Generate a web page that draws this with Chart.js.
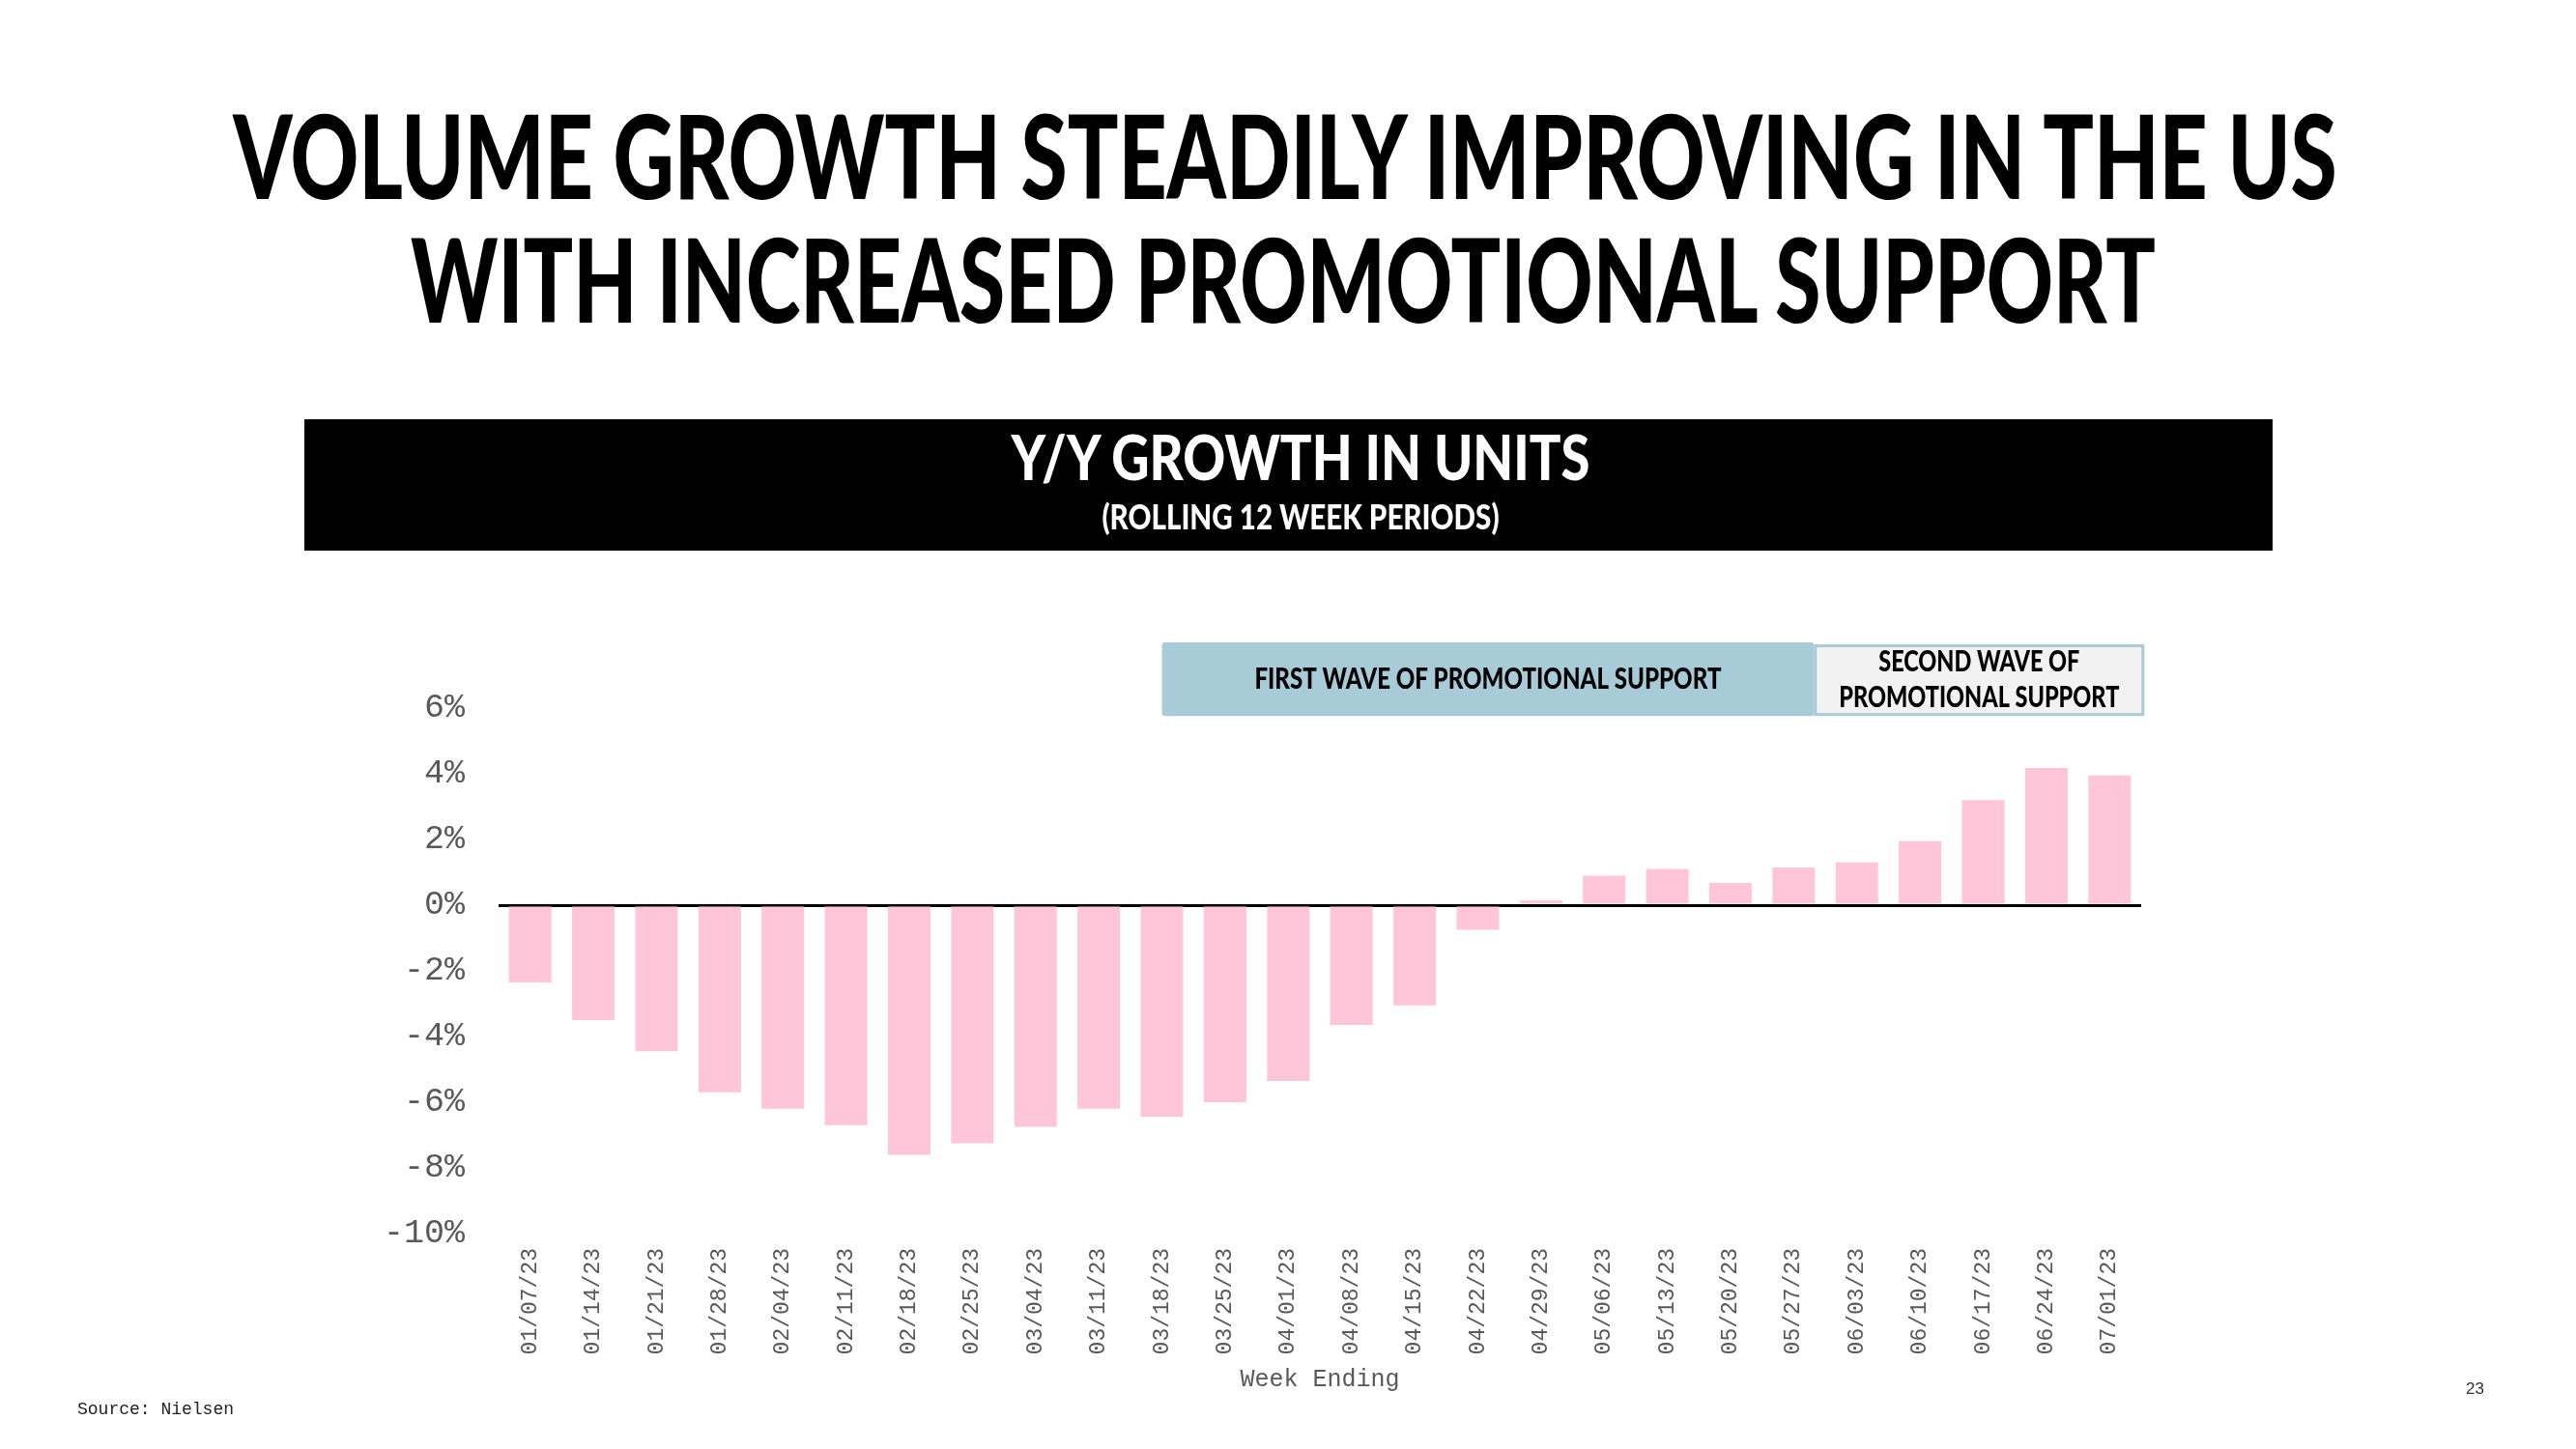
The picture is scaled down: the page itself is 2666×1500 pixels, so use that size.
<!DOCTYPE html>
<html>
<head>
<meta charset="utf-8">
<script src="https://cdn.jsdelivr.net/npm/chart.js@4.4.1/dist/chart.umd.min.js"></script>
<style>
    html, body { margin: 0; padding: 0; background: #fff; }
    body { width: 2666px; height: 1500px; position: relative; overflow: hidden; }
    #chart { position: absolute; left: 0; top: 0; }
    .fit {
        position: absolute;
        white-space: nowrap;
        line-height: 1;
        transform-origin: center top;
        font-family: Lato, "DejaVu Sans", sans-serif;
        font-weight: 900;
    }
    #header { position: absolute; left: 315px; top: 434px; width: 2037px; height: 136px; background: #000; }
    #source { position: absolute; left: 80px; top: 1449px; font: 18px "Liberation Mono", monospace; color: #222; }
    #page { position: absolute; left: 2552px; top: 1428px; font: 17px "Liberation Sans", sans-serif; color: #333; }
</style>
</head>
<body>
<canvas id="chart" width="2666" height="1500"></canvas>

<div class="fit" style="left:1330px; top:100px; font-size:120px;" data-w="2177">VOLUME GROWTH STEADILY IMPROVING IN THE US</div>
<div class="fit" style="left:1328px; top:228px; font-size:120px;" data-w="1806">WITH INCREASED PROMOTIONAL SUPPORT</div>

<div id="header"></div>
<div class="fit" style="left:1346px; top:440px; font-size:65px; color:#fff;" data-w="599">Y/Y GROWTH IN UNITS</div>
<div class="fit" style="left:1346px; top:516px; font-size:36px; color:#fff;" data-w="411">(ROLLING 12 WEEK PERIODS)</div>

<div id="source">Source: Nielsen</div>
<div id="page">23</div>

<script>
    // Week ending dates (rolling 12 week periods)
    const weeks = [
        '01/07/23', '01/14/23', '01/21/23', '01/28/23', '02/04/23', '02/11/23', '02/18/23',
        '02/25/23', '03/04/23', '03/11/23', '03/18/23', '03/25/23', '04/01/23', '04/08/23',
        '04/15/23', '04/22/23', '04/29/23', '05/06/23', '05/13/23', '05/20/23', '05/27/23',
        '06/03/23', '06/10/23', '06/17/23', '06/24/23', '07/01/23'
    ];

    // Y/Y growth in units, %
    const unitGrowth = [
        -2.35, -3.5, -4.45, -5.7, -6.2, -6.7, -7.6,
        -7.25, -6.75, -6.2, -6.45, -6.0, -5.35, -3.65,
        -3.05, -0.75, 0.15, 0.9, 1.1, 0.68, 1.15,
        1.3, 1.95, 3.2, 4.18, 3.95
    ];

    const yTicks = [-10, -8, -6, -4, -2, 0, 2, 4, 6];

    const waveLabels = [
        ['FIRST WAVE OF PROMOTIONAL SUPPORT'],
        ['SECOND WAVE OF', 'PROMOTIONAL SUPPORT']
    ];

    // fit titles to their width
    document.querySelectorAll('.fit').forEach(function (el) {
        const s = +el.dataset.w / el.offsetWidth;
        el.style.transform = 'translateX(-50%) scaleX(' + s + ')';
    });

    // promo boxes, placed in scale units (category index / percent)
    const waveBoxes = [
        { from: 10, to: 20.32, top: 8.0, bottom: 5.76, fill: '#a8cbd8', stroke: null, maxW: 483 },
        { from: 20.32, to: 25.55, top: 7.94, bottom: 5.76, fill: '#f2f2f2', stroke: '#a8cbd8', maxW: 290 }
    ];

    const wavePlugin = {
        id: 'waves',
        afterDraw(chart) {
            const { ctx, scales: { x, y } } = chart;
            ctx.save();
            waveBoxes.forEach((b, i) => {
                const x0 = x.getPixelForValue(b.from), x1 = x.getPixelForValue(b.to);
                const y0 = y.getPixelForValue(b.top), y1 = y.getPixelForValue(b.bottom);
                ctx.fillStyle = b.fill;
                ctx.beginPath();
                ctx.roundRect(x0, y0, x1 - x0, y1 - y0, 3);
                ctx.fill();
                if (b.stroke) {
                    ctx.strokeStyle = b.stroke;
                    ctx.lineWidth = 3;
                    ctx.strokeRect(x0 + 1.5, y0 + 1.5, x1 - x0 - 3, y1 - y0 - 3);
                }
                const lines = waveLabels[i];
                const lh = 37;
                const cx = (x0 + x1) / 2, cy = (y0 + y1) / 2;
                ctx.font = '900 30px Lato, "DejaVu Sans", sans-serif';
                ctx.fillStyle = '#000';
                ctx.textAlign = 'center';
                ctx.textBaseline = 'middle';
                const widest = Math.max(...lines.map(t => ctx.measureText(t).width));
                const sx = b.maxW / widest;
                lines.forEach((t, k) => {
                    const ty = cy + (k - (lines.length - 1) / 2) * lh;
                    ctx.save();
                    ctx.translate(cx, ty);
                    ctx.scale(sx, 1);
                    ctx.fillText(t, 0, 0);
                    ctx.restore();
                });
            });
            ctx.restore();
        }
    };

    const ctx = document.getElementById('chart').getContext('2d');
    new Chart(ctx, {
        type: 'bar',
        data: {
            labels: weeks,
            datasets: [{
                label: 'Y/Y growth in units',
                data: unitGrowth,
                backgroundColor: '#ffc5d9',
                barPercentage: 0.673,
                categoryPercentage: 1
            }]
        },
        options: {
            responsive: false,
            animation: false,
            devicePixelRatio: 1,
            layout: {
                padding: { left: 300, right: 450, top: 733, bottom: 57 }
            },
            plugins: {
                legend: { display: false },
                tooltip: { enabled: false }
            },
            scales: {
                x: {
                    afterFit: function (s) { s.height = 166; },
                    grid: { display: false },
                    border: { display: false },
                    ticks: {
                        autoSkip: false,
                        minRotation: 90,
                        maxRotation: 90,
                        padding: 7,
                        color: '#595959',
                        font: { family: '"Liberation Mono", monospace', size: 23 }
                    },
                    title: {
                        display: true,
                        text: 'Week Ending',
                        color: '#595959',
                        padding: 0,
                        font: { family: '"Liberation Mono", monospace', size: 25 }
                    }
                },
                y: {
                    z: 1,
                    min: -10,
                    max: 6,
                    afterFit: function (s) { s.width = 216; },
                    afterBuildTicks: function (s) { s.ticks = yTicks.map(v => ({ value: v })); },
                    grid: {
                        drawTicks: false,
                        lineWidth: 3,
                        color: c => c.tick && c.tick.value === 0 ? '#000' : 'rgba(0,0,0,0)'
                    },
                    border: { display: false },
                    ticks: {
                        padding: 35,
                        color: '#595959',
                        font: { family: '"Liberation Mono", monospace', size: 35 },
                        callback: v => v + '%'
                    }
                }
            }
        },
        plugins: [wavePlugin]
    });
</script>
</body>
</html>
